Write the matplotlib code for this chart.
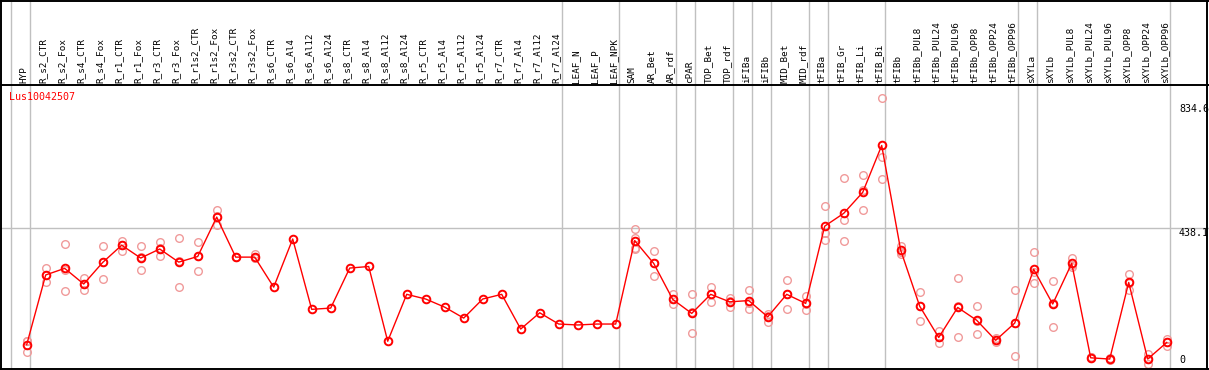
import matplotlib
matplotlib.use("Agg")
import matplotlib.pyplot as plt
from matplotlib.lines import Line2D
from matplotlib.transforms import blended_transform_factory

samples = [
    "HYP", "R_s2_CTR", "R_s2_Fox", "R_s4_CTR", "R_s4_Fox", "R_r1_CTR", "R_r1_Fox",
    "R_r3_CTR", "R_r3_Fox", "R_r1s2_CTR", "R_r1s2_Fox", "R_r3s2_CTR", "R_r3s2_Fox",
    "R_s6_CTR", "R_s6_Al4", "R_s6_Al12", "R_s6_Al24", "R_s8_CTR", "R_s8_Al4",
    "R_s8_Al12", "R_s8_Al24", "R_r5_CTR", "R_r5_Al4", "R_r5_Al12", "R_r5_Al24",
    "R_r7_CTR", "R_r7_Al4", "R_r7_Al12", "R_r7_Al24", "LEAF_N", "LEAF_P", "LEAF_NPK",
    "SAM", "AR_Bet", "AR_rdf", "cPAR", "TOP_Bet", "TOP_rdf", "iFIBa", "iFIBb",
    "MID_Bet", "MID_rdf", "tFIBa", "tFIB_Gr", "tFIB_Li", "tFIB_Bi", "tFIBb",
    "tFIBb_PUL8", "tFIBb_PUL24", "tFIBb_PUL96", "tFIBb_OPP8", "tFIBb_OPP24", "tFIBb_OPP96",
    "sXYLa", "sXYLb", "sXYLb_PUL8", "sXYLb_PUL24", "sXYLb_PUL96", "sXYLb_OPP8",
    "sXYLb_OPP24", "sXYLb_OPP96",
]

means = [
    65, 288, 309, 259, 328, 383, 342, 371, 329, 347, 473, 345, 345,
    249, 403, 178, 182, 310, 315, 76, 226, 211, 185, 150, 211,
    226, 115, 167, 131, 128, 131, 131,
    398, 325, 210, 165, 226, 202, 206, 154, 226, 197,
    444, 485, 552, 702, 367,
    188, 88, 184, 143, 79, 134,
    306, 195, 325, 23, 19, 264, 19, 72,
]

replicates = [
    [77, 40, 76], [311, 265, 288], [387, 236, 304], [278, 239, 259], [380, 275, 330],
    [398, 366, 385], [380, 303, 344], [393, 347, 373], [405, 249, 333], [393, 301, 349],
    [495, 448, 477], [345, 345, 346], [354, 341, 342],
    [], [], [], [], [], [], [], [], [], [], [], [], [], [], [], [], [], [], [],
    [434, 405, 375, 371], [365, 284, 327], [227, 195, 210], [226, 101, 168],
    [249, 203, 226], [215, 185, 204], [240, 179, 198], [164, 138, 158],
    [271, 179, 228], [221, 175, 195],
    [508, 421, 399], [597, 463, 396], [607, 559, 495], [853, 666, 594], [382, 356, 362],
    [232, 140, 190], [109, 69, 88], [277, 88, 188], [188, 99, 141], [85, 73, 79],
    [239, 28, 135],
    [360, 261, 297], [268, 120, 197], [342, 312, 321], [25, 22, 24], [21, 17, 19],
    [291, 240, 261], [34, 4, 19], [84, 62, 72],
]

# last sample index of each group (separator drawn just after it)
group_ends = [-1, 0, 28, 31, 34, 35, 37, 38, 39, 41, 42, 45, 52, 53, 60]
scale_labels = [("834.6", 834.6, "top"), ("438.1", 438.1, "top"), ("0", 0, "bottom")]

W, H = 1209, 370
fig = plt.figure(figsize=(W / 100, H / 100), dpi=100)
ax = fig.add_axes([0, 1 / H, 1, 284 / H])
ax.set_xlim(-26.7 / 19, (W - 26.7) / 19)
ax.set_ylim(-4 / 0.3127, 280 / 0.3127)
ax.axis("off")

mono = "DejaVu Sans Mono"
grey = "#c0c0c0"
pink = "#f09a9a"

vx = blended_transform_factory(ax.transData, fig.transFigure)
for g in group_ends:
    ax.add_line(Line2D([g + 0.19, g + 0.19], [1 / H, 1], transform=vx, color=grey,
                       lw=1, clip_on=False, zorder=1))
ax.axhline(438.1, color=grey, lw=1, zorder=1)

for i, reps in enumerate(replicates):
    if reps:
        ax.plot([i] * len(reps), reps, "o", mfc="none", mec=pink, ms=5.5, mew=1, zorder=2)
x = list(range(len(means)))
ax.plot(x, means, "-", color="red", lw=1, zorder=3)
ax.plot(x, means, "o", mfc="none", mec="red", ms=5.5, mew=1.4, zorder=4)

for i, name in enumerate(samples):
    ax.text(i - 0.13, (H - 83) / H, name, transform=vx, rotation=90, ha="center",
            va="bottom", family=mono, fontsize=6.7, color="black")

hy = blended_transform_factory(fig.transFigure, ax.transData)
for text, val, va in scale_labels:
    ax.text(1179 / W, val, text, transform=hy, ha="left", va=va, family=mono,
            fontsize=7.2, color="black", clip_on=False)

fig.text(9 / W, 1 - 97 / H, "Lus10042507", ha="left", va="center", family=mono,
         fontsize=7.2, color="red")

# frame and header separator
for xs, ys in [([0.5, 0.5], [0, H]), ([W - 2, W - 2], [0, H]), ([0, W], [H - 0.5, H - 0.5]),
               ([0, W], [1, 1]), ([0, W], [H - 85, H - 85])]:
    fig.add_artist(Line2D([v / W for v in xs], [v / H for v in ys], color="black", lw=1.4))

fig.savefig("out.png", dpi=100, facecolor="white")
